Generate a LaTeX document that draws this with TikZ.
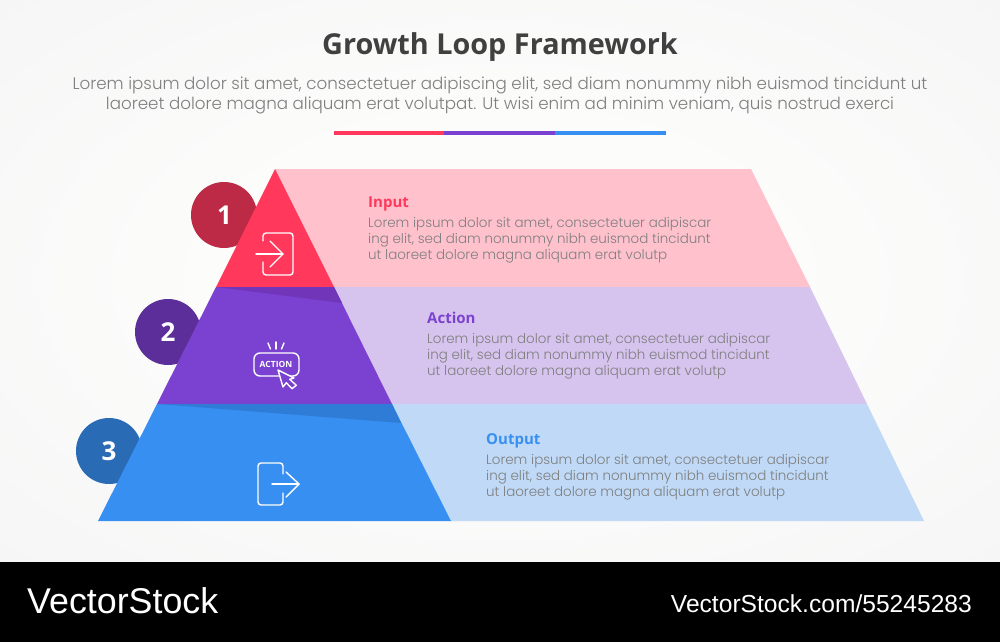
\documentclass[tikz,border=0pt]{standalone}
\usepackage{fontspec}
\setmainfont{Poppins}
\newfontfamily\lightf{Poppins Light}
\newfontfamily\headf{Open Sans}
\newfontfamily\logof{Liberation Sans}
\definecolor{cred}{HTML}{FF385C}
\definecolor{cpur}{HTML}{7B42D1}
\definecolor{cblu}{HTML}{388FF2}
\definecolor{lred}{HTML}{FFC1CC}
\definecolor{lpur}{HTML}{D6C4EE}
\definecolor{lblu}{HTML}{BFD9F6}
\definecolor{dred}{HTML}{BC2A45}
\definecolor{dpur}{HTML}{5C2E99}
\definecolor{dblu}{HTML}{2A6BB5}
\definecolor{sred}{HTML}{7035B8}
\definecolor{sblu}{HTML}{2F7CD6}
\definecolor{txt}{HTML}{7F7F7F}
\definecolor{ttl}{HTML}{404040}
\definecolor{bgout}{HTML}{F1F2F2}
\definecolor{bgin}{HTML}{FCFCFB}
\pgfdeclareradialshading{bgsoft}{\pgfpointorigin}{
  color(0bp)=(bgin); color(14bp)=(bgin); color(34bp)=(bgin!45!bgout); color(50bp)=(bgout)}
\tikzset{
  numc/.style={circle,minimum size=66pt,inner sep=0pt,font=\headf\bfseries\fontsize{26}{26}\selectfont,text=white},
  hd/.style={anchor=base west,inner sep=0pt,font=\headf\bfseries\fontsize{15}{15}\selectfont},
  bodytxt/.style={anchor=north west,inner sep=0pt,align=left,text=txt,font=\lightf\fontsize{13.45}{16}\selectfont},
  sub/.style={anchor=base,inner sep=0pt,text=txt,font=\lightf\fontsize{16.7}{17}\selectfont},
  ico/.style={draw=white,line width=1.4pt,line cap=round,line join=round,fill=none},
}
\begin{document}
\begin{tikzpicture}[x=1pt,y=-1pt]
\useasboundingbox (0,0) rectangle (1000,642);
% background
\shade[shading=bgsoft] (0,0) rectangle (1000,562);
\fill[black] (0,562) rectangle (1000,642);
% title
\node[anchor=base,inner sep=0pt,text=ttl,font=\headf\bfseries\fontsize{28.8}{29}\selectfont] (title) at (500,55) {Growth Loop Framework};
\node[sub] (s1) at (500,89) {Lorem ipsum dolor sit amet, consectetuer adipiscing elit, sed diam nonummy nibh euismod tincidunt ut};
\node[sub] (s2) at (500,109) {laoreet dolore magna aliquam erat volutpat. Ut wisi enim ad minim veniam, quis nostrud exerci};
\fill[cred] (334,131) rectangle (444,135);
\fill[cpur] (444,131) rectangle (555,135);
\fill[cblu] (555,131) rectangle (666,135);
% circles
\node[numc,fill=dred] (n1) at (224,215) {\hspace*{1pt}1};
\node[numc,fill=dpur] (n2) at (168,332) {2};
\node[numc,fill=dblu] (n3) at (109,451) {3};
% right bands
\fill[lred] (275,169) -- (751,169) -- (810,287) -- (334,287) -- cycle;
\fill[lpur] (334,287) -- (810,287) -- (867,404) -- (392,404) -- cycle;
\fill[lblu] (392,404) -- (867,404) -- (924,521) -- (451,521) -- cycle;
% pyramid
\fill[cred] (275,169) -- (334,287) -- (216,287) -- cycle;
\fill[cpur] (216,287) -- (334,287) -- (392,404) -- (157,404) -- cycle;
\fill[cblu] (157,404) -- (392,404) -- (451,521) -- (98,521) -- cycle;
\fill[sred] (216,287) -- (334,287) -- (342,303) -- cycle;
\fill[sblu] (157,404) -- (392,404) -- (401,423) -- cycle;
% icon 1
\draw[ico] (263,241) -- (263,236) arc[start angle=180,end angle=270,radius=3] -- (290,233) arc[start angle=270,end angle=360,radius=3] -- (293,272) arc[start angle=0,end angle=90,radius=3] -- (266,275) arc[start angle=90,end angle=180,radius=3] -- (263,262);
\draw[ico] (256,254) -- (283,254);
\draw[ico] (270,241) -- (283,254) -- (270,267);
% icon 2
\draw[ico,rounded corners=6pt] (254,353) rectangle (299,376);
\node[inner sep=0pt,text=white,font=\headf\bfseries\fontsize{8.5}{8.5}\selectfont] (act) at (276,364) {ACTION};
\draw[ico] (268,343) -- (270.5,349);
\draw[ico] (276,342) -- (276,349);
\draw[ico] (284,343) -- (281.5,349);
\draw[ico,fill=cpur] (278,370) -- (294,378) -- (289.700,379.300) -- (296.300,385.300) -- (292,388.700) -- (286.300,382.700) -- (283,387) -- cycle;
% icon 3
\draw[ico] (283,474) -- (283,466) arc[start angle=0,end angle=-90,radius=3] -- (261,463) arc[start angle=270,end angle=180,radius=3] -- (258,502) arc[start angle=180,end angle=90,radius=3] -- (280,505) arc[start angle=90,end angle=0,radius=3] -- (283,493);
\draw[ico] (272,484) -- (299,484);
\draw[ico] (286,472) -- (299,484) -- (286,497);
% texts
\node[hd,text=cred] (h1) at (368,207) {Input};
\node[bodytxt] (b1) at (368,217) {Lorem ipsum dolor sit amet, consectetuer adipiscar\\ing elit, sed diam nonummy nibh euismod tincidunt\\ut laoreet dolore magna aliquam erat volutp};
\node[hd,text=cpur] (h2) at (427,323) {Action};
\node[bodytxt] (b2) at (427,333) {Lorem ipsum dolor sit amet, consectetuer adipiscar\\ing elit, sed diam nonummy nibh euismod tincidunt\\ut laoreet dolore magna aliquam erat volutp};
\node[hd,text=cblu] (h3) at (486,444) {Output};
\node[bodytxt] (b3) at (486,454) {Lorem ipsum dolor sit amet, consectetuer adipiscar\\ing elit, sed diam nonummy nibh euismod tincidunt\\ut laoreet dolore magna aliquam erat volutp};
% footer
\node[anchor=base west,inner sep=0pt,text=white,font=\logof\fontsize{35.8}{36}\selectfont] (vs) at (27,613) {VectorStock};
\node[anchor=base east,inner sep=0pt,text=white,font=\logof\fontsize{24.6}{25}\selectfont] (vu) at (972,612) {VectorStock.com/55245283};
\end{tikzpicture}
\end{document}
